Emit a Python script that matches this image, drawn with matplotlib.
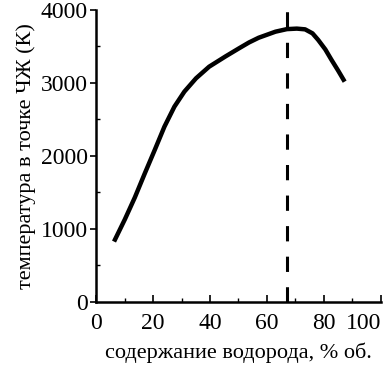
import matplotlib
matplotlib.use("Agg")
import matplotlib.pyplot as plt
from matplotlib.ticker import MultipleLocator

h2_pct = [6.3, 10.1, 13.6, 17.1, 20.6, 24.0, 27.5, 31.0, 35.1, 39.7, 45.5, 50.2,
          53.7, 57.1, 63.0, 67.0, 70.5, 73.4, 76.0, 78.0, 80.5, 82.7, 85.0, 87.3]
temp_K = [826, 1130, 1430, 1760, 2082, 2401, 2675, 2881, 3064, 3223, 3365, 3475,
          3555, 3620, 3703, 3738, 3745, 3735, 3680, 3590, 3460, 3315, 3170, 3018]
peak_x = 67
x_ticks = [0, 20, 40, 60, 80, 100]
y_ticks = [0, 1000, 2000, 3000, 4000]

plt.rcParams['font.family'] = ['Liberation Serif', 'DejaVu Serif']

fig = plt.figure(figsize=(3.89, 3.85), dpi=100)
ax = fig.add_axes([0.247, 0.216, 0.732, 0.758])

ax.plot(h2_pct, temp_K, color='black', lw=3.2, solid_capstyle='butt', solid_joinstyle='round')
ax.axvline(peak_x, ymin=0, ymax=1, color='black', lw=2.2, dashes=(5, 5))

ax.set_xlim(0, 100)
ax.set_ylim(0, 4000)
ax.set_xticks(x_ticks)
ax.set_yticks(y_ticks)
ax.xaxis.set_minor_locator(MultipleLocator(10))
ax.yaxis.set_minor_locator(MultipleLocator(500))
ax.tick_params(axis='x', which='major', direction='in', length=5, width=1.2, labelsize=17, pad=8)
ax.tick_params(axis='y', which='major', direction='out', length=4, width=1.2, labelsize=17, pad=2)
ax.tick_params(which='minor', direction='in', length=3, width=1)
labels = ax.get_xticklabels()
labels[-1].set_horizontalalignment('right')
labels[-1].set_x(1.0)

for s in ['top', 'right']:
    ax.spines[s].set_visible(False)
for s in ['left', 'bottom']:
    ax.spines[s].set_linewidth(1.8)

ax.set_xlabel('содержание водорода, % об.', fontsize=16, labelpad=6)
ax.set_ylabel('температура в точке ЧЖ (К)', fontsize=16, labelpad=3)

fig.savefig('out.png', dpi=100)
